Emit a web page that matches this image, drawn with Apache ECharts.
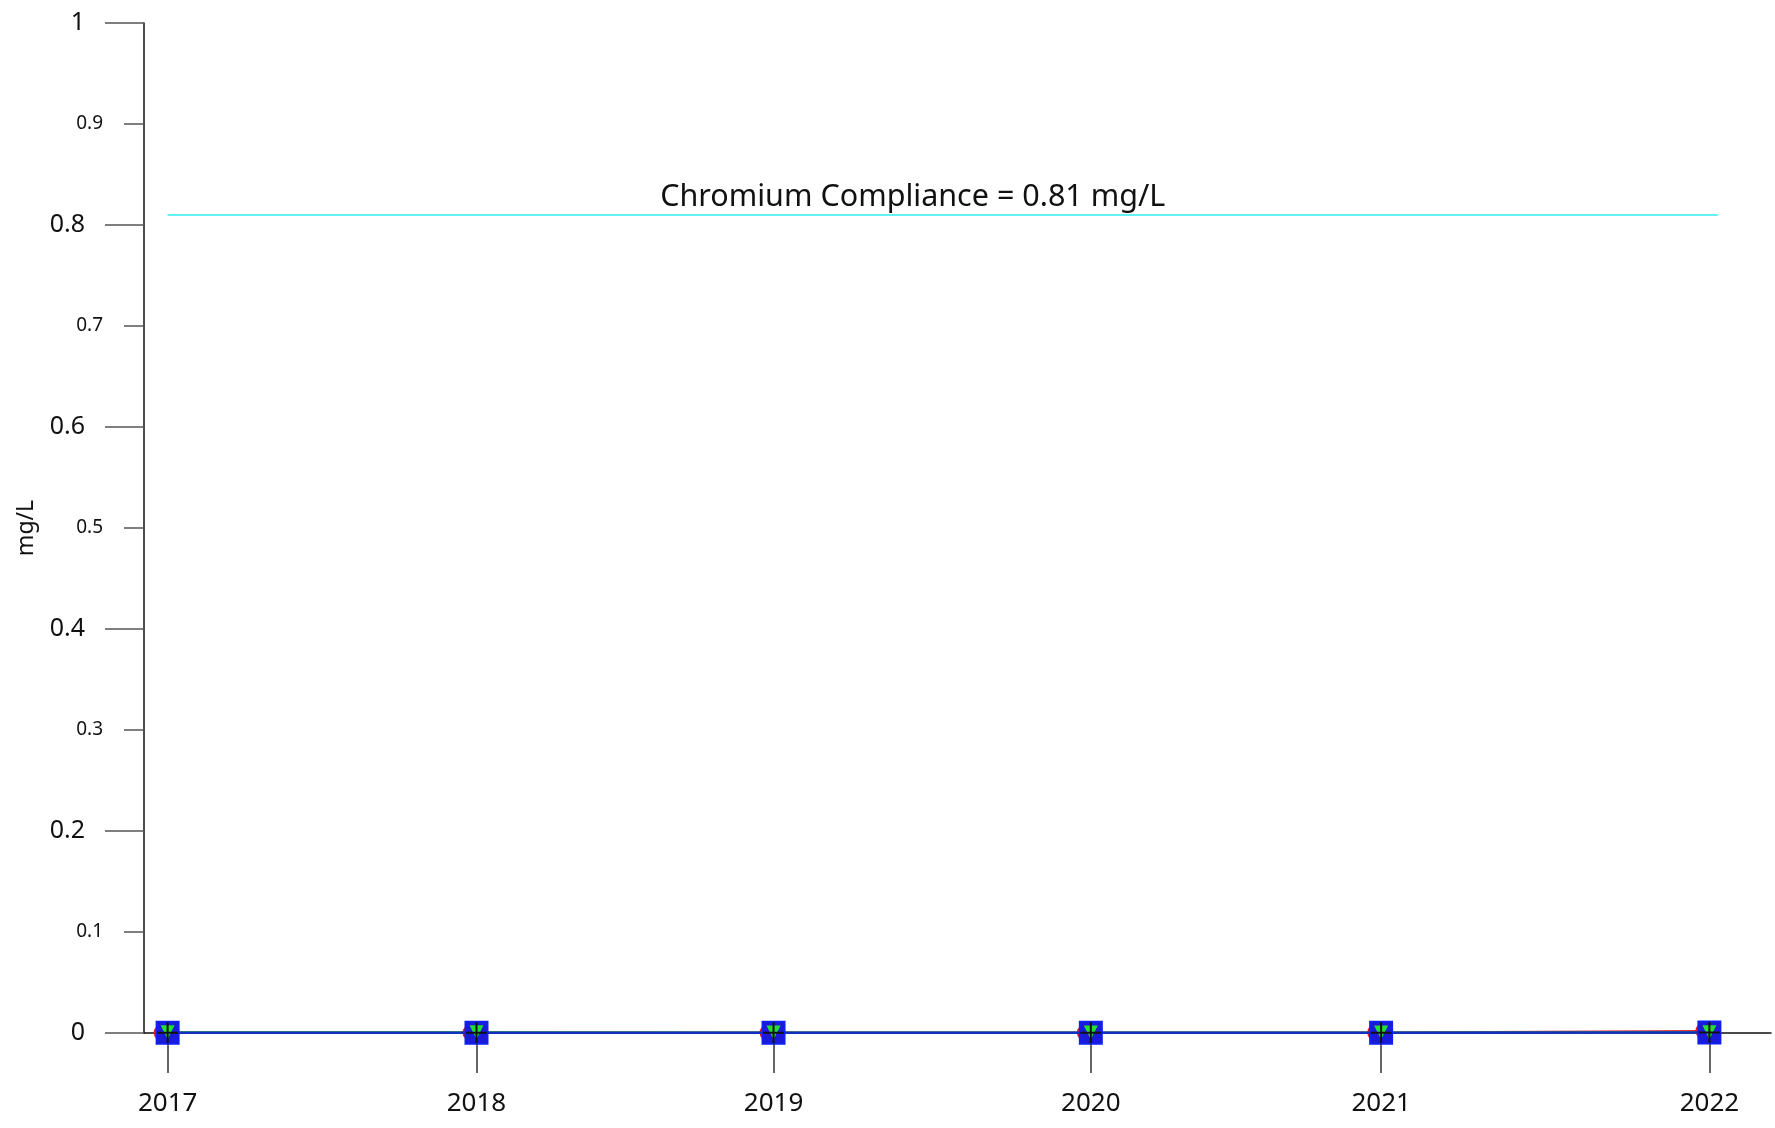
<!DOCTYPE html>
<html><head><meta charset="utf-8">
<script src="https://cdn.jsdelivr.net/npm/echarts@6/dist/echarts.min.js"></script>
<style>html,body{margin:0;padding:0;background:#fff}#c{width:1775px;height:1128px}</style>
</head><body><div id="c"></div>
<script>
// sample dates (one per year)
const sampleDates = ['2017-06-15','2018-06-16','2019-06-03','2020-06-13','2021-05-23','2022-06-16'];
const axisMin = '2017-05-18';
const axisMax = '2022-08-28';
const complianceStart = '2017-06-15';
const complianceEnd = '2022-06-26';
// series values (mg/L)
const blueValues  = [0.0003, 0.0003, 0.0003, 0.0003, 0.0003, 0.0005];
const greenValues = [0.0008, 0.0008, 0.0006, 0.0006, 0.0005, 0.0007];
const redValues   = [0.0004, 0.0004, 0.0004, 0.0004, 0.0005, 0.0020];
const blackValues = [0.0003, 0.0003, 0.0003, 0.0003, 0.0003, 0.0005];
const complianceValue = 0.81;
const complianceLabel = 'Chromium Compliance = 0.81 mg/L';
const yMajorTicks = [0, 0.2, 0.4, 0.6, 0.8, 1];
const yMinorTicks = [0.1, 0.3, 0.5, 0.7, 0.9];

const ts = d => new Date(d + 'T00:00:00Z').getTime();
const pts = vals => sampleDates.map((d, i) => [ts(d), vals[i]]);
const FONT = '"Noto Sans", "Open Sans", sans-serif';

const chart = echarts.init(document.getElementById('c'));
chart.setOption({
  animation: false,
  backgroundColor: '#fff',
  textStyle: { fontFamily: FONT },
  grid: { left: 144, right: 4, top: 23, bottom: 95, containLabel: false },
  xAxis: {
    type: 'value', min: ts(axisMin), max: ts(axisMax),
    axisLine: { show: true, lineStyle: { color: '#111', width: 1.5 } },
    axisTick: { show: true, length: 40, lineStyle: { color: '#333', width: 1.5 },
      customValues: sampleDates.map(ts) },
    axisLabel: { show: true, fontSize: 26, color: '#111', margin: 58, fontFamily: FONT,
      customValues: sampleDates.map(ts),
      formatter: v => String(new Date(v).getUTCFullYear()) },
    splitLine: { show: false }
  },
  yAxis: [{
    type: 'value', min: 0, max: 1, position: 'left',
    name: 'mg/L', nameLocation: 'middle', nameGap: 106, nameRotate: 90,
    nameTextStyle: { fontSize: 23, color: '#111', fontFamily: FONT },
    axisLine: { show: true, lineStyle: { color: '#111', width: 1.5 } },
    axisTick: { show: true, length: 39, lineStyle: { color: '#555', width: 1.5 }, customValues: yMajorTicks },
    axisLabel: { fontSize: 25, color: '#111', margin: 59, fontFamily: FONT, customValues: yMajorTicks,
      formatter: v => String(Math.round(v * 10) / 10) },
    splitLine: { show: false }
  }, {
    type: 'value', min: 0, max: 1, position: 'left',
    axisLine: { show: false },
    axisTick: { show: true, length: 20, lineStyle: { color: '#555', width: 1.5 }, customValues: yMinorTicks },
    axisLabel: { fontSize: 19, color: '#111', margin: 41, fontFamily: FONT, customValues: yMinorTicks,
      formatter: v => String(Math.round(v * 10) / 10) },
    splitLine: { show: false }
  }],
  series: [
    {
      name: 'Compliance', type: 'line', data: [], symbol: 'none',
      markLine: {
        silent: true, symbol: 'none',
        lineStyle: { color: '#66f0f0', width: 2, type: 'solid' },
        label: { show: true, position: 'middle', formatter: complianceLabel, fontSize: 30.5,
          color: '#111', fontFamily: FONT, distance: 2, offset: [-30, 0] },
        data: [[{ coord: [ts(complianceStart), complianceValue] },
                { coord: [ts(complianceEnd), complianceValue] }]]
      }
    },
    {
      name: 'Red', type: 'line', data: pts(redValues), symbol: 'circle', symbolSize: 16,
      symbolOffset: [-6, 0],
      lineStyle: { color: '#e02020', width: 2 }, itemStyle: { color: '#e02020' }, z: 2
    },
    {
      name: 'Green line', type: 'line', data: pts(greenValues), showSymbol: false,
      lineStyle: { color: '#20c040', width: 2 }, z: 2
    },
    {
      name: 'Blue', type: 'line', data: pts(blueValues), symbol: 'rect', symbolSize: 22,
      lineStyle: { color: '#1030c0', width: 2.5 },
      itemStyle: { color: '#1a1ad8', borderColor: '#1020f0', borderWidth: 2 }, z: 4
    },
    {
      name: 'Green', type: 'line', data: pts(greenValues), symbol: 'triangle', symbolRotate: 180, symbolSize: 14,
      lineStyle: { width: 0, opacity: 0 }, itemStyle: { color: '#20e030' }, z: 5
    },
    {
      name: 'Black', type: 'line', data: pts(blackValues),
      symbol: 'path://M0,5 L10,5 M5,0 L5,10', symbolSize: 21,
      lineStyle: { width: 0, opacity: 0 },
      itemStyle: { color: 'rgba(0,0,0,0)', borderColor: '#111', borderWidth: 2 }, z: 6
    }
  ]
});
</script></body></html>
